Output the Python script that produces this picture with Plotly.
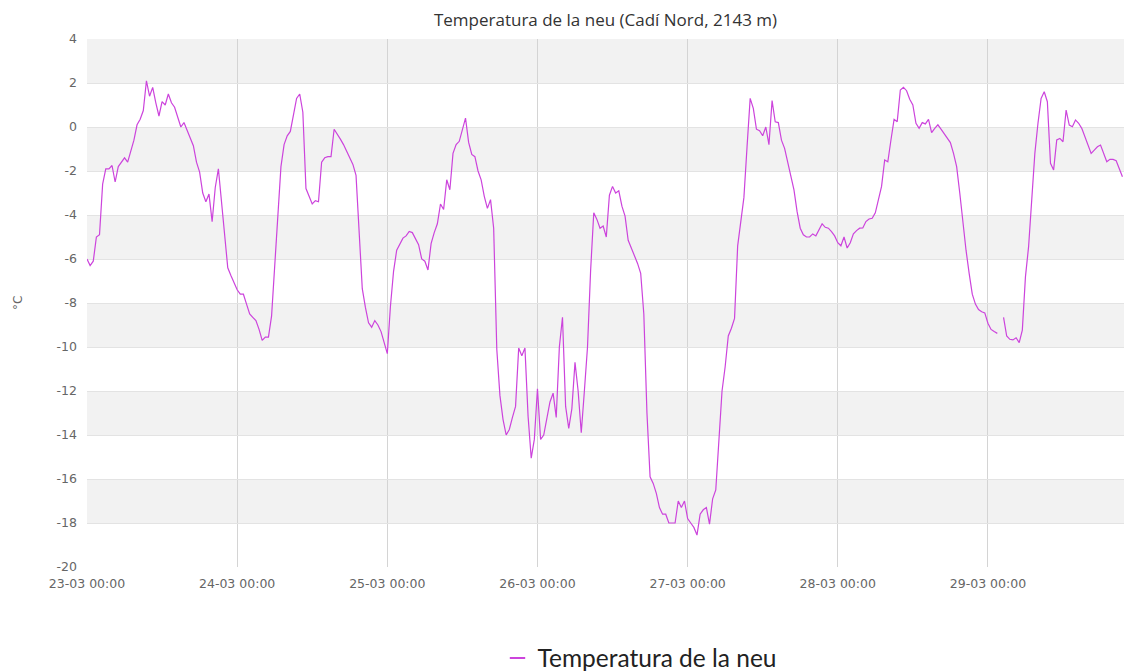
import pandas as pd
import plotly.graph_objects as go

# Snow temperature, half-hourly readings (°C)
day23 = [-6.0, -6.3, -6.1, -5.0, -4.9, -2.6, -1.9, -1.9, -1.75, -2.5,
         -1.8, -1.6, -1.4, -1.6, -1.1, -0.6, 0.1, 0.35, 0.75, 2.1,
         1.4, 1.8, 1.1, 0.5, 1.15, 1.0, 1.5, 1.1, 0.9, 0.4,
         0.0, 0.2, -0.2, -0.5, -0.85, -1.6, -2.05, -3.0, -3.4, -3.05,
         -4.3, -2.75, -1.9, -3.5, -5.15, -6.4, -6.75, -7.1]
day24 = [-7.4, -7.6, -7.6, -8.05, -8.5, -8.65, -8.8, -9.2, -9.7, -9.55,
         -9.55, -8.6, -6.3, -4.0, -1.8, -0.8, -0.4, -0.2, 0.5, 1.3,
         1.5, 0.67, -2.8, -3.2, -3.5, -3.35, -3.4, -1.6, -1.4, -1.35,
         -1.35, -0.1, -0.3, -0.55, -0.8, -1.1, -1.45, -1.7, -2.2, -4.7,
         -7.35, -8.2, -8.9, -9.1, -8.8, -9.0, -9.3, -9.8]
day25 = [-10.3, -8.15, -6.56, -5.6, -5.3, -5.05, -4.95, -4.75, -4.8, -5.1,
         -5.35, -6.0, -6.1, -6.5, -5.3, -4.8, -4.4, -3.5, -3.75, -2.4,
         -2.85, -1.2, -0.8, -0.65, -0.1, 0.4, -0.7, -1.25, -1.35, -2.0,
         -2.4, -3.15, -3.7, -3.3, -4.6, -10.1, -12.2, -13.3, -14.0, -13.75,
         -13.2, -12.7, -10.05, -10.4, -10.05, -13.15, -15.05, -14.2]
day26 = [-11.9, -14.2, -14.0, -13.2, -12.5, -12.1, -13.2, -10.0, -8.65, -12.7,
         -13.7, -12.8, -10.7, -12.0, -13.9, -12.0, -10.0, -6.5, -3.9, -4.2,
         -4.6, -4.5, -5.0, -3.1, -2.7, -3.0, -2.9, -3.6, -4.05, -5.15,
         -5.5, -5.9, -6.2, -6.65, -8.5, -13.0, -15.9, -16.2, -16.65, -17.3,
         -17.6, -17.6, -18.0, -18.0, -18.0, -17.0, -17.3, -17.0]
day27 = [-17.8, -18.0, -18.2, -18.55, -17.6, -17.4, -17.3, -18.05, -16.9, -16.5,
         -14.3, -12.0, -10.9, -9.5, -9.15, -8.7, -5.4, -4.2, -3.2, -0.9,
         1.3, 0.85, -0.1, -0.17, -0.4, 0.0, -0.8, 1.2, 0.24, 0.2,
         -0.6, -0.97, -1.6, -2.1, -2.86, -3.85, -4.6, -4.9, -5.0, -5.0,
         -4.86, -4.95, -4.65, -4.4, -4.56, -4.6, -4.76, -4.95]
day28 = [-5.26, -5.4, -5.0, -5.5, -5.26, -4.86, -4.71, -4.6, -4.59, -4.3,
         -4.18, -4.15, -3.9, -3.3, -2.7, -1.5, -1.58, -0.59, 0.35, 0.24,
         1.68, 1.8, 1.65, 1.26, 1.0, 0.17, -0.06, 0.2, 0.14, 0.35,
         -0.26, -0.06, 0.1, -0.1, -0.29, -0.47, -0.71, -1.2, -1.8, -3.0,
         -4.4, -5.6, -6.65, -7.6, -8.05, -8.3, -8.4, -8.45]
day29 = [-8.92, -9.2, -9.3, -9.38, None, -8.65, -9.5, -9.65, -9.68, -9.58,
         -9.8, -9.23, -6.8, -5.44, -3.47, -1.2, 0.17, 1.3, 1.6, 1.15,
         -1.65, -1.95, -0.59, -0.52, -0.67, 0.77, 0.09, 0.01, 0.32, 0.17,
         -0.06, -0.44, -0.82, -1.2, -1.05, -0.9, -0.82, -1.2, -1.58, -1.47,
         -1.47, -1.53, -1.88, -2.26]

start_time = "2015-03-23 00:00"
step = "30min"
y_ticks = [-20, -18, -16, -14, -12, -10, -8, -6, -4, -2, 0, 2, 4]
x_range = ["2015-03-23 00:00", "2015-03-29 21:45"]

series_name = "Temperatura de la neu"
title_text = "Temperatura de la neu (Cadí Nord, 2143 m)"
y_unit = "°C"

values = day23 + day24 + day25 + day26 + day27 + day28 + day29
times = pd.date_range(start_time, periods=len(values), freq=step)

LINE = "#cc44dc"
TICKFONT = dict(family="DejaVu Sans", size=12.5, color="#666666")

fig = go.Figure()
fig.add_trace(go.Scatter(
    x=times, y=values, mode="lines", name=series_name,
    line=dict(color=LINE, width=1.2), connectgaps=False, showlegend=False,
))
# legend entry (short dash symbol like the original)
fig.add_trace(go.Scatter(
    x=[None], y=[None], mode="markers", name=series_name,
    marker=dict(symbol="line-ew", size=11, color=LINE,
                line=dict(color=LINE, width=2)),
    showlegend=True,
))

# alternating grey bands
shapes = []
for lo in y_ticks[1::2]:
    shapes.append(dict(type="rect", xref="paper", yref="y", x0=0, x1=1,
                       y0=lo, y1=lo + 2, fillcolor="#f2f2f2",
                       line=dict(width=0), layer="below"))

fig.update_layout(
    width=1124, height=671,
    margin=dict(l=87, r=0, t=39, b=104),
    paper_bgcolor="white", plot_bgcolor="white",
    shapes=shapes,
    title=dict(text=title_text, x=0.5, xref="paper", xanchor="center",
               y=1 - 20 / 671, yref="container", yanchor="middle",
               font=dict(family="Open Sans", size=17, color="#333333")),
    xaxis=dict(type="date", range=x_range, dtick=86400000,
               tick0="2015-03-23 00:00", tickformat="%d-%m %H:%M",
               showgrid=True, gridcolor="#d4d4d4", gridwidth=1,
               zeroline=False, showline=False, ticks="",
               tickfont=TICKFONT, ticklabelstandoff=7),
    yaxis=dict(range=[-20, 4], tickvals=y_ticks,
               ticktext=[str(v) for v in y_ticks],
               showgrid=True, gridcolor="#e3e3e3", gridwidth=1,
               zeroline=False, showline=False, ticks="",
               tickfont=TICKFONT, ticklabelstandoff=9),
    legend=dict(orientation="h", x=(640 - 87) / 1037, xanchor="center",
                xref="paper", y=1 - 658 / 671, yref="container",
                yanchor="middle",
                font=dict(family="Lato", size=24.5, color="#222222"),
                bgcolor="rgba(0,0,0,0)"),
    annotations=[dict(text=y_unit, xref="paper", yref="paper",
                      x=(18 - 87) / 1037, y=0.5, xanchor="center",
                      yanchor="middle", textangle=-90, showarrow=False,
                      font=dict(family="DejaVu Sans", size=12, color="#666666"))],
)

fig.write_html("out.html", config={"displayModeBar": False},
               post_script="document.body.style.margin='0';")
